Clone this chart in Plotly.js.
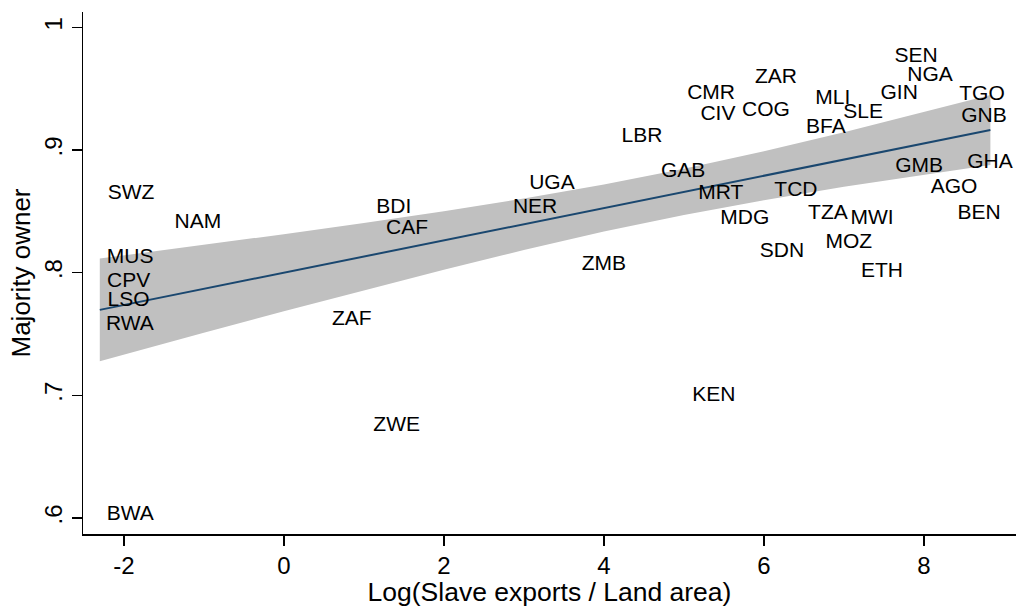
<!DOCTYPE html>
<html>
<head>
<meta charset="utf-8">
<script src="https://cdn.plot.ly/plotly-3.0.1.min.js"></script>
<style>html,body{margin:0;padding:0;background:#fff;}#chart{width:1016px;height:607px;}</style>
</head>
<body>
<div id="chart"></div>
<script>
// Country labels and their positions (log slave exports / land area, majority owner share)
var countries = ["SWZ","NAM","MUS","CPV","LSO","RWA","BWA","BDI","CAF","UGA","NER","ZMB","ZAF","ZWE","KEN",
  "SEN","NGA","ZAR","CMR","GIN","TGO","MLI","COG","CIV","SLE","GNB","BFA","LBR","GAB","GMB","GHA","AGO",
  "MRT","TCD","MDG","TZA","MWI","BEN","MOZ","SDN","ETH"];
var slaveExports = [-1.91,-1.075,-1.92,-1.94,-1.94,-1.925,-1.92,1.375,1.54,3.35,3.14,4.0,0.85,1.41,5.375,
  7.9,8.075,6.15,5.34,7.69,8.725,6.86,6.025,5.425,7.24,8.75,6.775,4.475,4.99,7.94,8.825,8.375,
  5.46,6.4,5.76,6.8,7.35,8.69,7.06,6.225,7.475];
var majorityOwner = [0.864,0.841,0.812,0.793,0.777,0.7575,0.6027,0.853,0.8357,0.8723,0.853,0.8064,0.7615,0.675,0.700,
  0.9758,0.9603,0.9587,0.9457,0.9457,0.9448,0.9416,0.9318,0.9286,0.9302,0.9269,0.918,0.9106,0.8821,0.8862,0.8894,0.8691,
  0.8642,0.8666,0.8438,0.8479,0.8438,0.8479,0.8243,0.8169,0.8007];

// Linear fit and 95% confidence band
var fitX     = [-2.3, -1, 0, 1, 2, 3, 4, 5, 6, 7, 8, 8.83];
var fitY     = [0.7697,0.7868,0.8000,0.8132,0.8263,0.8395,0.8527,0.8659,0.8790,0.8922,0.9054,0.9163];
var ciUpper  = [0.8115,0.8226,0.8314,0.8406,0.8501,0.8605,0.8719,0.8847,0.8989,0.9144,0.9308,0.9448];
var ciLower  = [0.7279,0.7510,0.7686,0.7858,0.8025,0.8185,0.8335,0.8471,0.8591,0.8700,0.8800,0.8878];

var xTickVals = [-2,0,2,4,6,8];
var xTickText = ["-2","0","2","4","6","8"];
var yTickVals = [0.6,0.7,0.8,0.9,1.0];
var yTickText = [".6",".7",".8",".9","1"];

var FONT = "Liberation Sans, Arial, Helvetica, sans-serif";

var bandX = fitX.concat(fitX.slice().reverse());
var bandY = ciUpper.concat(ciLower.slice().reverse());

var traces = [
  {x: bandX, y: bandY, type: "scatter", mode: "lines", fill: "toself",
   fillcolor: "rgb(192,192,192)", line: {width: 0, color: "rgba(0,0,0,0)"}, hoverinfo: "skip", showlegend: false},
  {x: fitX, y: fitY, type: "scatter", mode: "lines",
   line: {color: "#1a476f", width: 2}, showlegend: false},
  {x: slaveExports, y: majorityOwner, text: countries, type: "scatter", mode: "text",
   textposition: "middle center", textfont: {family: FONT, size: 21, color: "#000"}, showlegend: false}
];

var layout = {
  width: 1016, height: 607,
  margin: {l: 83, r: 0, t: 12, b: 73},
  paper_bgcolor: "#fff", plot_bgcolor: "#fff",
  font: {family: FONT, color: "#000"},
  showlegend: false,
  xaxis: {
    range: [-2.51, 9.15], showgrid: false, zeroline: false,
    showline: true, linecolor: "#000", linewidth: 1.5,
    ticks: "outside", ticklen: 10, tickwidth: 1.5, tickcolor: "#000",
    tickvals: xTickVals, ticktext: xTickText,
    tickfont: {family: FONT, size: 24, color: "#000"},
    title: {text: "Log(Slave exports / Land area)", font: {family: FONT, size: 26.5, color: "#000"}, standoff: 3}
  },
  yaxis: {
    range: [0.587, 1.0125], showgrid: false, zeroline: false,
    showline: true, linecolor: "#000", linewidth: 1.5,
    ticks: "outside", ticklen: 10, tickwidth: 1.5, tickcolor: "#000",
    tickvals: yTickVals, ticktext: yTickText, tickangle: -90,
    tickfont: {family: FONT, size: 24, color: "#000"},
    title: {text: "Majority owner", font: {family: FONT, size: 26, color: "#000"}, standoff: 2}
  }
};

Plotly.newPlot("chart", traces, layout, {displayModeBar: false, staticPlot: true});
</script>
</body>
</html>
